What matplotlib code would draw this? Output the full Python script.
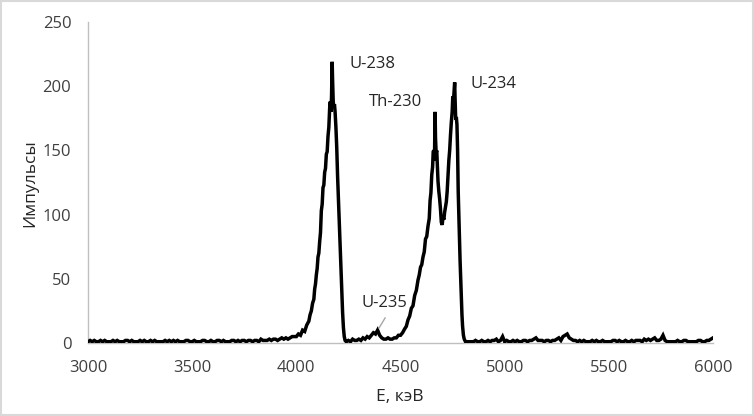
import matplotlib
matplotlib.use("Agg")
import matplotlib.pyplot as plt

plt.rcParams['font.family'] = ['Open Sans', 'DejaVu Sans']

# --- данные спектра ---
e_base1 = list(range(3000, 4000, 10))
n_base1 = [1, 2, 1, 2, 1, 1, 2, 1, 2, 1,
           1, 1, 2, 1, 2, 1, 1, 1, 2, 2,
           1, 2, 1, 1, 1, 2, 1, 2, 1, 1,
           2, 1, 2, 1, 1, 1, 1, 2, 1, 2,
           1, 2, 1, 2, 1, 1, 1, 2, 2, 1,
           1, 2, 1, 1, 1, 2, 2, 1, 1, 2,
           1, 1, 2, 2, 1, 2, 1, 1, 1, 2,
           2, 1, 2, 1, 2, 2, 1, 2, 2, 1,
           2, 2, 1, 3, 2, 2, 2, 3, 2, 3,
           3, 2, 3, 4, 3, 4, 3, 4, 5, 5]

# пик U-238
e_u238 = [4000, 4010, 4020, 4030, 4040, 4050, 4060, 4066, 4072, 4078,
          4084, 4088, 4092, 4096, 4100, 4104, 4108, 4112, 4116, 4120,
          4124, 4128, 4132, 4136, 4140, 4144, 4148, 4152, 4156, 4160,
          4163, 4166, 4169, 4172, 4174, 4177, 4180, 4183, 4186, 4190,
          4194, 4198, 4202, 4206, 4210, 4214, 4218, 4222, 4226, 4230,
          4234]
n_u238 = [5, 7, 6, 10, 9, 14, 17, 22, 25, 31,
          34, 42, 46, 53, 58, 67, 70, 79, 86, 103,
          108, 121, 123, 133, 136, 147, 149, 161, 168, 183,
          188, 180, 192, 219, 205, 188, 184, 186, 180, 168,
          152, 130, 112, 96, 76, 56, 40, 24, 12, 5,
          2]

# область U-235
e_u235 = list(range(4240, 4450, 10))
n_u235 = [1, 2, 1, 3, 2, 2, 3, 2, 4, 3, 5, 4, 6, 8, 7, 10, 6, 4, 3, 3, 4]

# пики Th-230 и U-234
e_th_u234 = [4450, 4460, 4470, 4480, 4490, 4500, 4510, 4520, 4528, 4536,
             4544, 4552, 4560, 4568, 4576, 4584, 4590, 4596, 4602, 4608,
             4614, 4620, 4626, 4632, 4638, 4642, 4646, 4650, 4654, 4657,
             4660, 4663, 4666, 4668, 4671, 4674, 4677, 4680, 4684, 4688,
             4692, 4696, 4700, 4704, 4708, 4712, 4716, 4720, 4724, 4728,
             4732, 4736, 4740, 4744, 4748, 4751, 4754, 4757, 4760, 4762,
             4765, 4768, 4771, 4774, 4777, 4780, 4783, 4786, 4789, 4792,
             4795, 4798, 4802, 4806, 4812]
n_th_u234 = [3, 3, 4, 4, 6, 6, 8, 11, 13, 18,
             21, 27, 29, 37, 41, 49, 53, 59, 61, 67,
             71, 81, 83, 91, 97, 111, 117, 131, 137, 149,
             150, 142, 180, 160, 148, 150, 138, 126, 118, 112,
             104, 94, 92, 98, 96, 102, 106, 110, 118, 130,
             142, 150, 162, 172, 180, 192, 188, 196, 203, 190,
             174, 176, 170, 150, 118, 100, 80, 64, 50, 36,
             22, 13, 6, 3, 1]

e_base2 = list(range(4820, 6001, 10))
n_base2 = [1, 1, 1, 1, 2, 1, 1, 2,
           1, 1, 2, 1, 2, 2, 3, 1, 2, 5,
           1, 2, 1, 1, 2, 1, 2, 1, 1, 2,
           2, 1, 2, 2, 3, 4, 2, 2, 2, 1,
           2, 2, 1, 2, 2, 3, 4, 2, 5, 6,
           7, 4, 3, 2, 2, 1, 2, 1, 2, 1,
           1, 1, 2, 1, 2, 1, 1, 2, 1, 1,
           1, 1, 2, 2, 1, 2, 1, 1, 2, 1,
           1, 2, 1, 2, 2, 2, 1, 3, 2, 3,
           2, 3, 4, 2, 2, 3, 6, 2, 1, 1,
           1, 1, 1, 2, 1, 1, 2, 2, 1, 1,
           1, 1, 1, 2, 2, 1, 1, 2, 2, 3,
           4]

energie = e_base1 + e_u238 + e_u235 + e_th_u234 + e_base2
impulsy = n_base1 + n_u238 + n_u235 + n_th_u234 + n_base2

x_ticks = [3000, 3500, 4000, 4500, 5000, 5500, 6000]
y_ticks = [0, 50, 100, 150, 200, 250]

fig = plt.figure(figsize=(7.54, 4.16), dpi=100)
ax = fig.add_axes([88 / 754, 73 / 416, 625 / 754, 321 / 416])

ax.plot(energie, impulsy, color='black', linewidth=2.5, solid_joinstyle='miter')

ax.set_xlim(3000, 6000)
ax.set_ylim(0, 250)
ax.set_xticks(x_ticks)
ax.set_yticks(y_ticks)
ax.tick_params(length=0, labelsize=12, colors='#404040')
ax.tick_params(axis='y', pad=12)
ax.tick_params(axis='x', pad=12)

for s in ['top', 'right']:
    ax.spines[s].set_visible(False)
for s in ['left', 'bottom']:
    ax.spines[s].set_color('#bfbfbf')
    ax.spines[s].set_linewidth(1.0)
    ax.spines[s].set_zorder(0)

# подписи пиков
ax.text(4253, 217, 'U-238', fontsize=12, va='center', color='#262626')
ax.text(4349, 188, 'Th-230', fontsize=12, va='center', color='#262626')
ax.text(4838, 202, 'U-234', fontsize=12, va='center', color='#262626')
ax.text(4315, 31, 'U-235', fontsize=12, va='center', color='#262626')
ax.plot([4426, 4397], [19.5, 11.7], color='#a6a6a6', linewidth=1)

fig.text(400 / 754, 1 - 397 / 416, 'E, кэВ', fontsize=12.5, ha='center', va='center', color='#262626')
fig.text(30 / 754, 1 - 183 / 416, 'Импульсы', fontsize=12.5, rotation=90, ha='center', va='center', color='#262626')

# рамка вокруг рисунка
fig.patches.append(plt.Rectangle((1 / 754, 1 / 416), 1 - 2 / 754, 1 - 2 / 416,
                                 transform=fig.transFigure, fill=False,
                                 edgecolor='#d9d9d9', linewidth=1.5))

fig.savefig('out.png', dpi=100)
